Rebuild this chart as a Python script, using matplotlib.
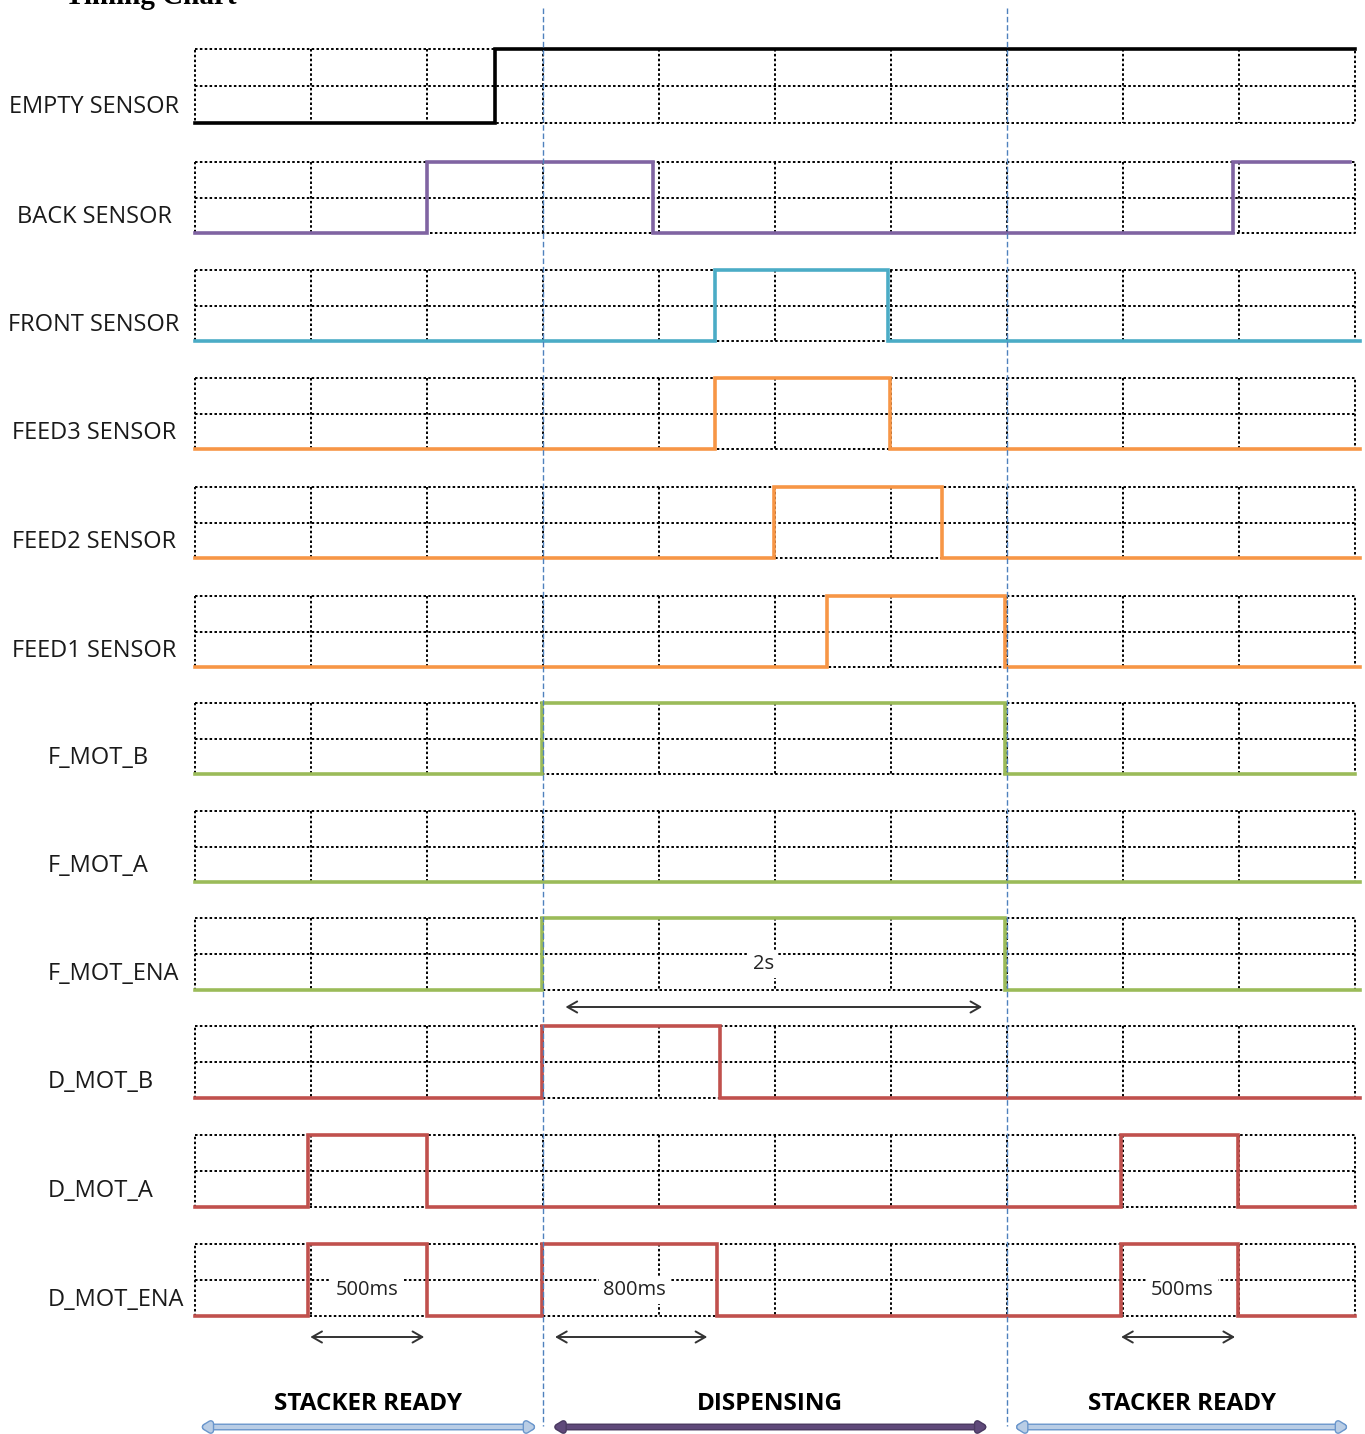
import numpy as np
import matplotlib
matplotlib.use("Agg")
import matplotlib.pyplot as plt
import matplotlib.patheffects as pe

# signal names, colours, start level and transition times (grid units, 10 columns)
names = ["EMPTY SENSOR", "BACK SENSOR", "FRONT SENSOR", "FEED3 SENSOR", "FEED2 SENSOR",
         "FEED1 SENSOR", "F_MOT_B", "F_MOT_A", "F_MOT_ENA", "D_MOT_B", "D_MOT_A", "D_MOT_ENA"]
colors = ["#000000", "#8064A2", "#4BACC6", "#F79646", "#F79646", "#F79646",
          "#9BBB59", "#9BBB59", "#9BBB59", "#C0504D", "#C0504D", "#C0504D"]
start_level = [0] * 12
edges = [
    [2.59],
    [2.0, 3.95, 8.95],
    [4.48, 5.97],
    [4.48, 5.99],
    [4.99, 6.44],
    [5.45, 6.98],
    [2.99, 6.98],
    [],
    [2.99, 6.98],
    [2.99, 4.53],
    [0.97, 2.0, 7.98, 8.99],
    [0.97, 2.0, 2.99, 4.5, 7.98, 8.99],
]
t_end = [10.0, 9.96, 10.04, 10.04, 10.04, 10.04, 10.0, 10.04, 10.04, 10.04, 10.0, 10.0]

# timing annotations: (label, text_t, arrow start, arrow end, row)
notes = [("2s", 4.9, 3.17, 6.81, 8),
         ("500ms", 1.48, 0.97, 2.0, 11),
         ("800ms", 3.79, 3.08, 4.44, 11),
         ("500ms", 8.51, 7.96, 8.99, 11)]
phases = ["STACKER READY", "DISPENSING", "STACKER READY"]
phase_span = [(0.03, 2.96), (3.07, 6.85), (7.05, 9.96)]
phase_colors = ["#B9CDE5", "#5F497A", "#B9CDE5"]
phase_edges = ["#6A96CC", "#4B3A62", "#6A96CC"]
phase_bounds = [3.0, 7.0]
n_cols = 10

W, H = 1365, 1434
x0, col_w = 195, 116
row_tops = [49, 162, 270, 378, 487, 596, 703, 811, 918, 1026, 1135, 1244]
row_h = [74, 71, 71, 71, 71, 71, 71, 71, 72, 72, 72, 72]


def tx(px):
    return (px - x0) / col_w


fig = plt.figure(figsize=(W / 100, H / 100), dpi=100)
ax = fig.add_axes([0, 0, 1, 1])
ax.set_xlim(tx(0), tx(W))
ax.set_ylim(H, 0)
ax.axis("off")

dots = dict(color="black", lw=1.4, linestyle=(0, (1.3, 1.2)), zorder=1)
lab_font = dict(fontsize=17, family="Open Sans", color="#1a1a1a")

for i, name in enumerate(names):
    top = row_tops[i]
    bot = top + row_h[i]
    mid = (top + bot) / 2
    # grid box
    ax.plot([0, n_cols, n_cols, 0, 0], [top, top, bot, bot, top], **dots)
    ax.plot([0, n_cols], [mid, mid], **dots)
    for c in range(1, n_cols):
        ax.plot([c, c], [top, bot], **dots)
    # waveform
    ts = [0] + edges[i] + [t_end[i]]
    lv = [(start_level[i] + k) % 2 for k in range(len(ts) - 1)]
    xs = np.repeat(ts, 2)[1:-1]
    ys = np.repeat(lv, 2)
    ypix = np.where(ys == 1, top, bot)
    ax.plot(xs, ypix, color=colors[i], lw=2.6, solid_joinstyle="miter", zorder=3)
    # label
    ly = top + 0.78 * row_h[i]
    if "SENSOR" in name:
        ax.text(tx(94), ly, name, ha="center", va="center", **lab_font)
    else:
        ax.text(tx(48), ly, name, ha="left", va="center", **lab_font)

# phase boundaries
for b in phase_bounds:
    ax.plot([b, b], [8, 1426], color="#4F81BD", lw=1.0, linestyle=(0, (4, 2)), zorder=4)

# timing annotations
for lab, tt, a0, a1, r in notes:
    top = row_tops[r]
    ax.text(tt, top + 0.64 * row_h[r], lab, ha="center", va="center", fontsize=14.5,
            family="Open Sans", color="#222222", zorder=5,
            bbox=dict(facecolor="white", edgecolor="none", pad=3))
    ay = top + row_h[r] + 17 if r == 8 else top + row_h[r] + 21
    ax.annotate("", xy=(a1, ay), xytext=(a0, ay),
                arrowprops=dict(arrowstyle="<->,head_length=0.7,head_width=0.4",
                                color="#333333", lw=1.4))

# phases
for lab, (a0, a1), c, ec in zip(phases, phase_span, phase_colors, phase_edges):
    ax.text((a0 + a1) / 2, 1404, lab, ha="center", va="center", fontsize=17.5,
            family="Open Sans", fontweight="bold", color="black")
    ann = ax.annotate("", xy=(a1, 1427), xytext=(a0, 1427),
                      arrowprops=dict(arrowstyle="<|-|>,head_length=0.4,head_width=0.25",
                                      color=c, lw=3))
    ann.arrow_patch.set_path_effects([pe.withStroke(linewidth=5, foreground=ec)])

# title cut off at the top
ax.text(tx(65), 4, "Timing Chart", ha="left", va="baseline", fontsize=21,
        fontweight="bold", family="Liberation Serif", color="black")

fig.savefig("out.png", dpi=100)
